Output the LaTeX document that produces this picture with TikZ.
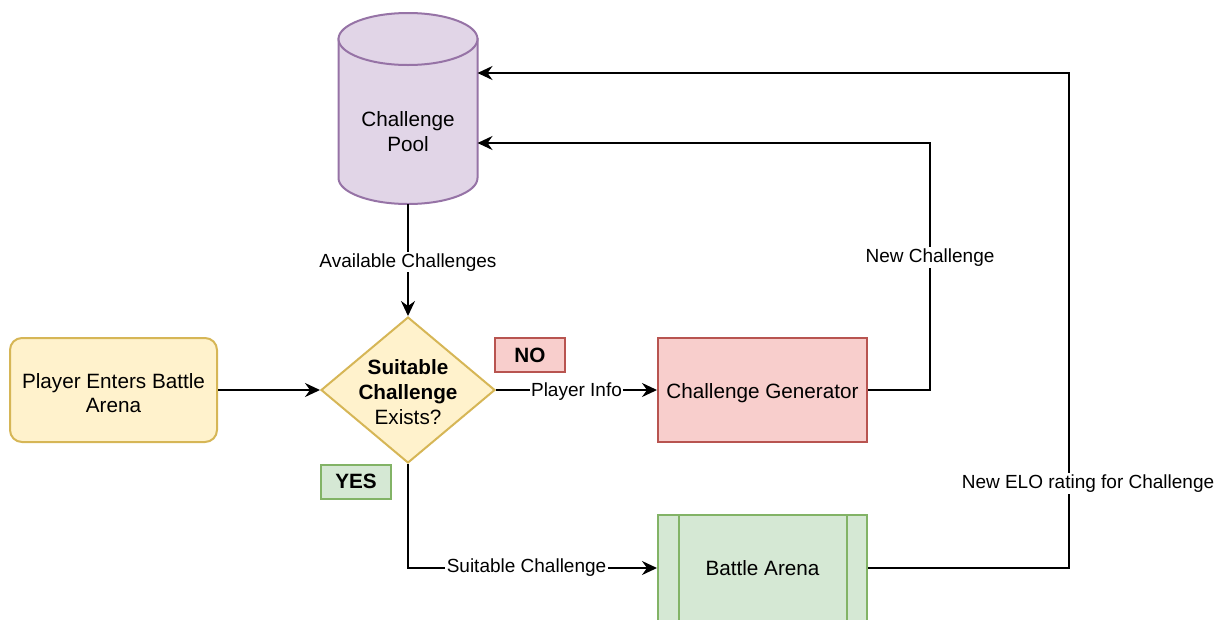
\documentclass[tikz,border=0pt]{standalone}
\usepackage{fontspec}
\setmainfont{Liberation Sans}
\usetikzlibrary{arrows.meta,shapes.geometric,calc}

\definecolor{poolfill}{HTML}{E1D5E7}
\definecolor{poolline}{HTML}{9673A6}
\definecolor{yelfill}{HTML}{FFF2CC}
\definecolor{yelline}{HTML}{D6B656}
\definecolor{redfill}{HTML}{F8CECC}
\definecolor{redline}{HTML}{B85450}
\definecolor{grnfill}{HTML}{D5E8D4}
\definecolor{grnline}{HTML}{82B366}

\tikzset{
  every node/.style={font=\fontsize{20.7}{24.8}\selectfont, text=black},
  box/.style={draw, line width=2pt, inner sep=0pt, align=center},
  startbox/.style={box, fill=yelfill, draw=yelline, rounded corners=12pt,
    minimum width=207pt, minimum height=104pt},
  genbox/.style={box, fill=redfill, draw=redline,
    minimum width=209pt, minimum height=104pt},
  arenabox/.style={box, fill=grnfill, draw=grnline,
    minimum width=209pt, minimum height=106pt},
  decision/.style={box, diamond, fill=yelfill, draw=yelline, aspect=1.19,
    minimum width=174pt, minimum height=146pt},
  inside/.style={align=center, font=\fontsize{20.7}{24.8}\selectfont},
  tag/.style={box, font=\fontsize{20.7}{24.8}\selectfont\bfseries,
    minimum width=70pt, minimum height=34pt},
  lbl/.style={fill=white, inner sep=1.5pt, font=\fontsize{19}{22}\selectfont},
  arr/.style={line width=2pt, -{Stealth[length=15pt, width=14pt, inset=5pt]}},
}

\begin{document}
\begin{tikzpicture}[x=1pt, y=-1pt]
\useasboundingbox (0,0) rectangle (1225,619);

% Challenge pool cylinder
\draw[line width=2pt, draw=poolline, fill=poolfill]
  (338.5,39) -- (338.5,178) arc[start angle=180, end angle=0, x radius=69.5, y radius=26]
  -- (477.5,39) -- cycle;
\draw[line width=2pt, draw=poolline, fill=poolfill]
  (408,39) ellipse [x radius=69.5, y radius=26];
\node[inner sep=0pt, minimum width=139pt, minimum height=191pt, align=center]
  (pool) at (408,108.5) {};
\node[align=center] (pooltxt) at (408,131.5) {Challenge\\Pool};
\coordinate (poolin1) at (477.5,73);
\coordinate (poolin2) at (477.5,143);

% Process nodes
\node[startbox, label={[inside, yshift=-3pt]center:{Player Enters Battle\\Arena}}] (start) at (113.5,390) {};
\node[decision, label={[inside, yshift=-2pt]center:{\textbf{Suitable}\\\textbf{Challenge}\\Exists?}}] (dec) at (408,390) {};
\node[genbox, label={[inside, yshift=-3pt]center:{Challenge Generator}}] (gen) at (762.5,390) {};
\node[arenabox, label={[inside]center:{Battle Arena}}] (arena) at (762.5,568) {};
\draw[line width=2pt, draw=grnline]
  ($(arena.north west)+(22,0)$) -- ($(arena.south west)+(22,0)$)
  ($(arena.north east)+(-21,0)$) -- ($(arena.south east)+(-21,0)$);

% Branch tags
\node[tag, fill=redfill, draw=redline] (no) at (530,355) {NO};
\node[tag, fill=grnfill, draw=grnline] (yes) at (356,481.5) {YES};

% Connectors
\draw[arr] (pool.south) -- node[lbl, pos=0.5, yshift=-2pt]{Available Challenges} (dec.north);
\draw[arr] (start.east) -- (dec.west);
\draw[arr] (dec.east) -- node[lbl, pos=0.5, yshift=-2pt]{Player Info} (gen.west);
\draw[arr] (dec.south) |- node[lbl, pos=0.738]{Suitable Challenge} (arena.west);
\draw[arr] (gen.east) -- ++(62,0) |- node[lbl, pos=0.268]{New Challenge} (poolin2);
\draw[arr] (arena.east) -- ++(201,0) |- node[lbl, pos=0.085, xshift=19pt]{New ELO rating for Challenge} (poolin1);
\end{tikzpicture}
\end{document}
